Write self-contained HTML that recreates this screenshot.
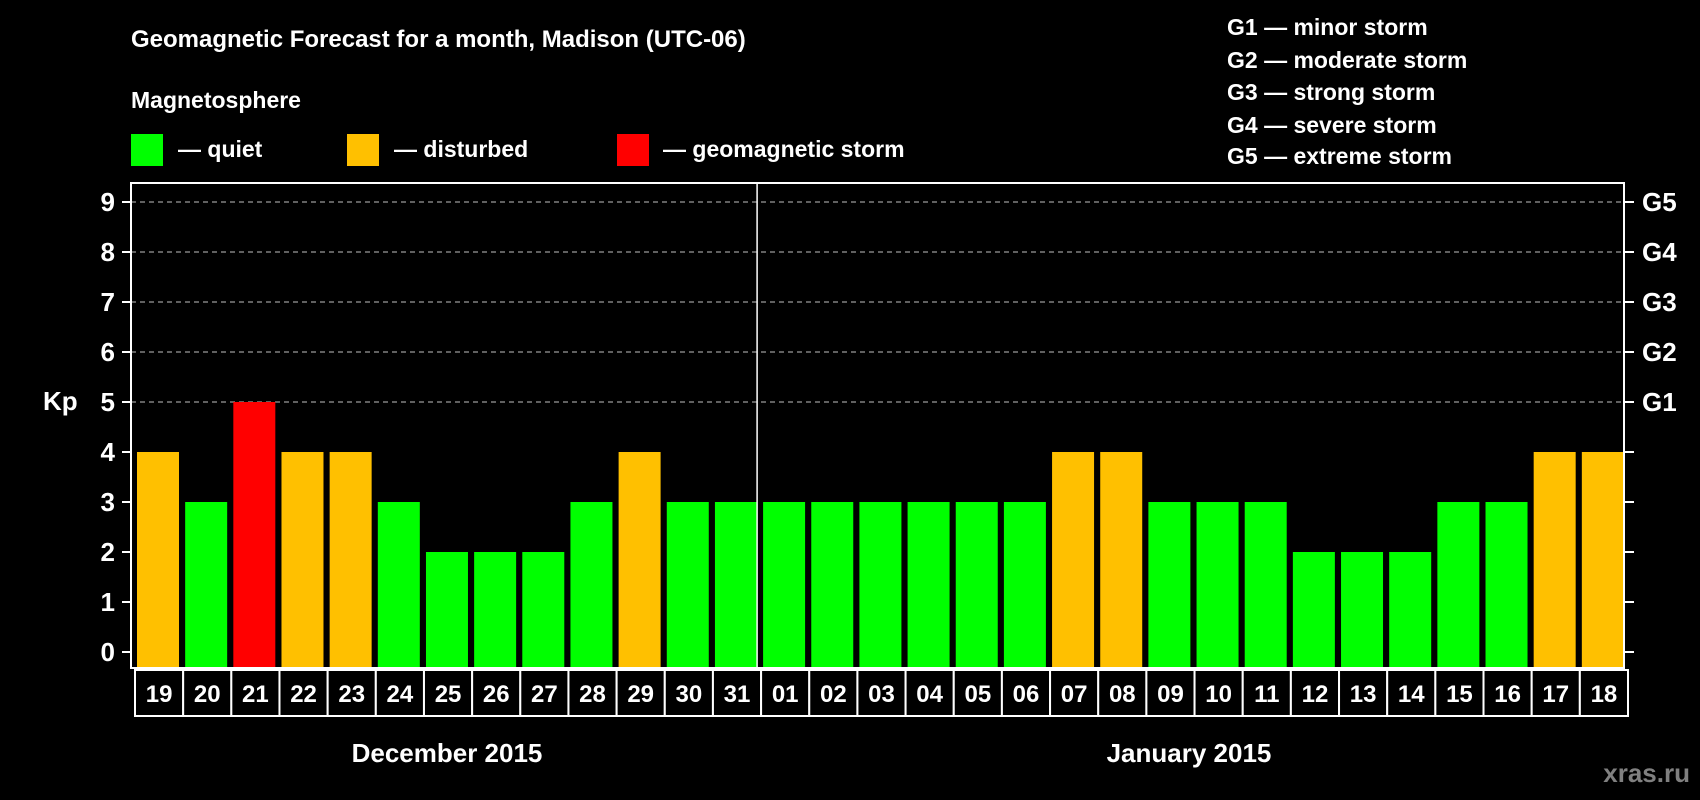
<!DOCTYPE html>
<html><head><meta charset="utf-8"><style>
html,body{margin:0;padding:0;background:#000;width:1700px;height:800px;overflow:hidden}
svg{display:block}
text{font-family:"Liberation Sans",Arial,sans-serif;font-weight:bold;fill:#fff}
</style></head><body>
<svg id="chart" width="1700" height="800" viewBox="0 0 1700 800" xmlns="http://www.w3.org/2000/svg">
<rect width="1700" height="800" fill="#000"/>
<text x="131" y="47" font-size="24">Geomagnetic Forecast for a month, Madison (UTC-06)</text>
<text x="131" y="108" font-size="23">Magnetosphere</text>
<g><rect x="131" y="134" width="32" height="32" fill="#00ff00"/><text x="178" y="157" font-size="23">— quiet</text></g>
<g><rect x="347" y="134" width="32" height="32" fill="#ffc000"/><text x="394" y="157" font-size="23">— disturbed</text></g>
<g><rect x="617" y="134" width="32" height="32" fill="#ff0000"/><text x="663" y="157" font-size="23">— geomagnetic storm</text></g>
<g font-size="23">
<text x="1227" y="35">G1 — minor storm</text>
<text x="1227" y="68">G2 — moderate storm</text>
<text x="1227" y="100">G3 — strong storm</text>
<text x="1227" y="133">G4 — severe storm</text>
<text x="1227" y="164">G5 — extreme storm</text>
</g>
<g id="plot"></g>
<text x="43" y="410" font-size="26">Kp</text>
<text x="447" y="762" font-size="26" text-anchor="middle">December 2015</text>
<text x="1189" y="762" font-size="26" text-anchor="middle">January 2015</text>
<text x="1690" y="782" font-size="26" text-anchor="end" style="fill:#808080">xras.ru</text>
</svg>
<script>
const days = ["19","20","21","22","23","24","25","26","27","28","29","30","31","01","02","03","04","05","06","07","08","09","10","11","12","13","14","15","16","17","18"];
const kpValues = [4,3,5,4,4,3,2,2,2,3,4,3,3,3,3,3,3,3,3,4,4,3,3,3,2,2,2,3,3,4,4];
const yTicks = [0,1,2,3,4,5,6,7,8,9];
const gLabels = ["G1","G2","G3","G4","G5"];
const gLevels = [5,6,7,8,9];

const NS="http://www.w3.org/2000/svg";
const g=document.getElementById('plot');
const L=131,R=1624,T=183,B=668;
const slot=(R-L)/days.length;
const y=v=>652-v*((652-202)/9);
const x=i=>L+i*slot;
function mk(tag,attrs,parent){const e=document.createElementNS(NS,tag);for(const k in attrs)e.setAttribute(k,attrs[k]);(parent||g).appendChild(e);return e;}
function col(v){return v>=5?"#ff0000":(v>=4?"#ffc000":"#00ff00");}
// grid
gLevels.forEach(v=>{
  const l=mk('line',{x1:L,x2:R,y1:y(v),y2:y(v),stroke:'#9a9a9a','stroke-width':1.2,'stroke-dasharray':'5,4'});
  
  
});
// bars
kpValues.forEach((v,i)=>{
  const r=mk('rect',{x:x(i)+6,y:y(v),width:42,height:B-y(v),fill:col(v)});
  
  
});
// frame
const fr=mk('rect',{x:L,y:T,width:R-L,height:B-T,fill:'none',stroke:'#fff','stroke-width':2});


// month divider
const dv=mk('line',{x1:x(13),x2:x(13),y1:T,y2:B,stroke:'#fff','stroke-width':1.5});


// y ticks
yTicks.forEach(v=>{
  const t=mk('line',{x1:L-9,x2:L,y1:y(v),y2:y(v),stroke:'#fff','stroke-width':2});
  
  
  const t2=mk('line',{x1:R,x2:R+10,y1:y(v),y2:y(v),stroke:'#fff','stroke-width':2});
  
  
  const tx=mk('text',{x:L-16,y:y(v)+9,'font-size':26,'text-anchor':'end'});
  tx.textContent=v;
  
  
});
gLabels.forEach((s,i)=>{
  const tx=mk('text',{x:R+18,y:y(gLevels[i])+9,'font-size':26});
  tx.textContent=s;
  
  
});
// day label boxes
days.forEach((d,i)=>{
  const b=mk('rect',{x:x(i)+4,y:670,width:slot,height:46,fill:'#000',stroke:'#fff','stroke-width':2});
  
  
  const tx=mk('text',{x:x(i)+4+slot/2,y:702,'font-size':24,'text-anchor':'middle'});
  tx.textContent=d;
  
  
});
</script>
</body></html>
